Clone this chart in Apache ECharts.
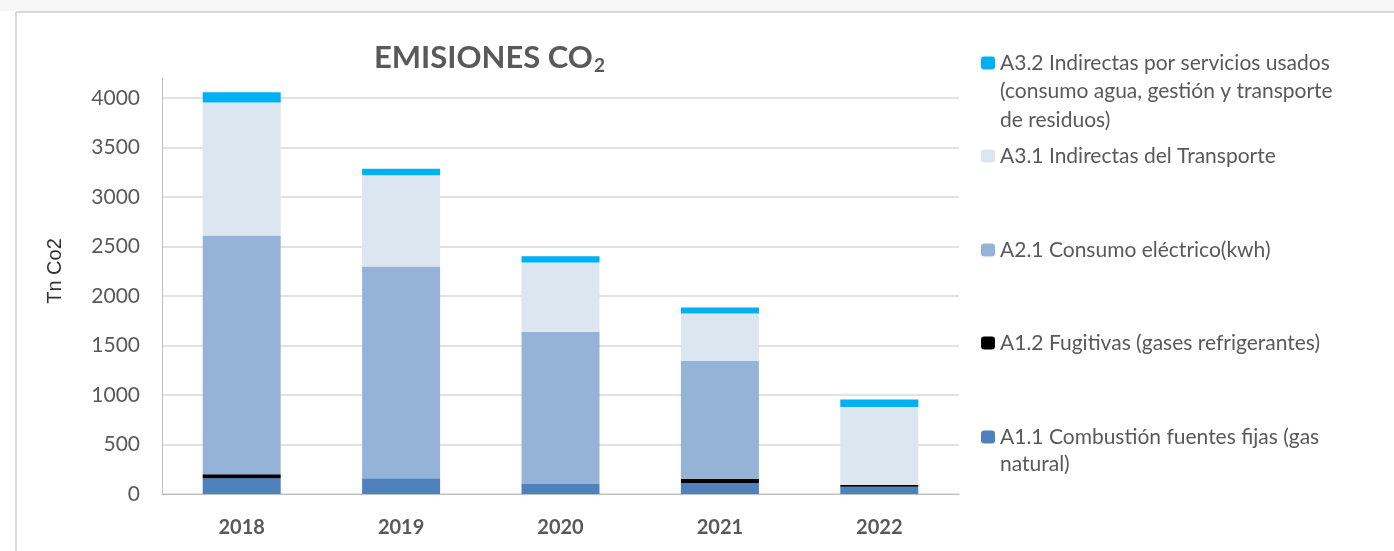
<!DOCTYPE html>
<html>
<head>
<meta charset="utf-8">
<script src="https://cdn.jsdelivr.net/npm/echarts@6/dist/echarts.min.js"></script>
<style>
  html, body { margin: 0; padding: 0; background: #fff; }
  #chart { width: 1394px; height: 551px; }
</style>
</head>
<body>
<div id="chart"></div>
<script>
// years on the x axis
const years = ["2018", "2019", "2020", "2021", "2022"];

// Tn CO2 per scope (bottom to top of the stack)
const a11 = [158, 160, 100, 110, 74];     // A1.1 combustión fuentes fijas
const a12 = [42, 0, 0, 44, 17];           // A1.2 fugitivas
const a21 = [2410, 2137, 1538, 1190, 0];  // A2.1 consumo eléctrico
const a31 = [1343, 920, 700, 478, 787];   // A3.1 indirectas del transporte
const a32 = [104, 66, 63, 62, 77];        // A3.2 indirectas por servicios

const names = {
  a11: "A1.1 Combustión fuentes fijas (gas",
  a12: "A1.2 Fugitivas (gases refrigerantes)",
  a21: "A2.1 Consumo eléctrico(kwh)",
  a31: "A3.1 Indirectas del Transporte",
  a32: "A3.2 Indirectas por servicios usados"
};

const grey = "#595959";
const font = "Lato, 'Open Sans', sans-serif";

function bar(name, data, color) {
  return {
    type: "bar",
    name: name,
    stack: "total",
    barWidth: 78,
    data: data,
    itemStyle: { color: color }
  };
}

// one legend per entry so the icons sit on the first text line
function legendAt(name, top) {
  return {
    data: [name],
    left: 981,
    top: top,
    padding: 0,
    itemWidth: 14,
    itemHeight: 13,
    itemGap: 0,
    selectedMode: false,
    textStyle: { color: grey, fontFamily: font, fontSize: 21, lineHeight: 22 }
  };
}

const myChart = echarts.init(document.getElementById("chart"));
myChart.setOption({
  animation: false,
  backgroundColor: "#fff",
  textStyle: { fontFamily: font },
  title: {
    text: "EMISIONES CO{sub|2}",
    left: 374,
    top: 40,
    padding: 0,
    textStyle: {
      color: grey,
      fontFamily: font,
      fontSize: 31,
      fontWeight: "bold",
      rich: {
        sub: { fontSize: 19, fontWeight: "bold", color: grey, fontFamily: font, verticalAlign: "bottom", padding: [16, 0, 0, 1] }
      }
    }
  },
  graphic: [
    { type: "rect", shape: { x: 0, y: 0, width: 1394, height: 11 }, style: { fill: "#f7f7f7" }, silent: true },
    { type: "line", shape: { x1: 16, y1: 12, x2: 1394, y2: 12 }, style: { stroke: "#d9d9d9", lineWidth: 2 }, silent: true },
    { type: "line", shape: { x1: 16, y1: 12, x2: 16, y2: 551 }, style: { stroke: "#d9d9d9", lineWidth: 2 }, silent: true },
    { type: "text", left: 1000, top: 81, style: { text: "(consumo agua, gestión y transporte", fill: grey, font: "21px " + font } },
    { type: "text", left: 1000, top: 110, style: { text: "de residuos)", fill: grey, font: "21px " + font } },
    { type: "text", left: 1000, top: 454, style: { text: "natural)", fill: grey, font: "21px " + font } }
  ],
  legend: [
    legendAt(names.a32, 52),
    legendAt(names.a31, 145),
    legendAt(names.a21, 239),
    legendAt(names.a12, 332),
    legendAt(names.a11, 426)
  ],
  grid: { left: 162, right: 435, top: 78, bottom: 57 },
  xAxis: {
    type: "category",
    data: years,
    axisTick: { show: false },
    axisLine: { lineStyle: { color: "#bfbfbf", width: 1 } },
    axisLabel: { color: grey, fontFamily: font, fontSize: 20, fontWeight: "bold", margin: 24 }
  },
  yAxis: {
    type: "value",
    min: 0,
    max: 4200,
    interval: 500,
    name: "Tn Co2",
    nameLocation: "middle",
    nameRotate: 90,
    nameGap: 97,
    nameTextStyle: { color: "#333", fontFamily: "'Liberation Sans', Arial, sans-serif", fontSize: 20, padding: [0, 0, 0, 30] },
    axisLine: { show: true, lineStyle: { color: "#bfbfbf", width: 1 } },
    axisTick: { show: false },
    axisLabel: {
      color: grey, fontFamily: font, fontSize: 21, margin: 22, showMaxLabel: false,
      formatter: function (v) { return String(v); }
    },
    splitLine: { show: true, showMaxLine: false, lineStyle: { color: "#d9d9d9", width: 1.5 } }
  },
  series: [
    bar(names.a11, a11, "#4f81bd"),
    bar(names.a12, a12, "#000000"),
    bar(names.a21, a21, "#95b3d7"),
    bar(names.a31, a31, "#dce6f1"),
    bar(names.a32, a32, "#00b0f0")
  ]
});
</script>
</body>
</html>
